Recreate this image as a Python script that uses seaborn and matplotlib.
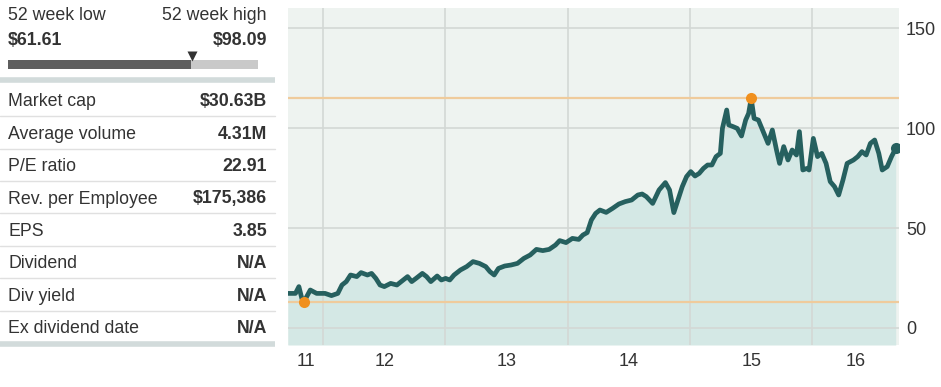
import matplotlib
matplotlib.use("Agg")
import matplotlib.pyplot as plt
import seaborn as sns
import pandas as pd
import numpy as np
from matplotlib.lines import Line2D
from matplotlib.patches import Rectangle

# ---------------- data ----------------
years = [2011.713, 2011.775, 2011.803, 2011.827, 2011.845, 2011.896, 2011.948, 2012.017,
         2012.069, 2012.121, 2012.155, 2012.190, 2012.225, 2012.276, 2012.311, 2012.363,
         2012.397, 2012.432, 2012.466, 2012.501, 2012.553, 2012.604, 2012.656, 2012.691,
         2012.725, 2012.760, 2012.812, 2012.846, 2012.881, 2012.933, 2012.967, 2013.002,
         2013.036, 2013.071, 2013.123, 2013.174, 2013.226, 2013.278, 2013.330, 2013.364,
         2013.399, 2013.434, 2013.485, 2013.537, 2013.589, 2013.641, 2013.693, 2013.744,
         2013.796, 2013.848, 2013.900, 2013.934, 2013.986, 2014.038, 2014.090, 2014.124,
         2014.159, 2014.193, 2014.228, 2014.263, 2014.314, 2014.366, 2014.418, 2014.470,
         2014.522, 2014.573, 2014.608, 2014.642, 2014.694, 2014.746, 2014.798, 2014.832,
         2014.867, 2014.902, 2014.936, 2014.971, 2015.005, 2015.040, 2015.074, 2015.109,
         2015.143, 2015.178, 2015.212, 2015.247, 2015.264, 2015.299, 2015.316, 2015.351,
         2015.385, 2015.420, 2015.454, 2015.478, 2015.499, 2015.523, 2015.558, 2015.592,
         2015.637, 2015.672, 2015.706, 2015.731, 2015.765, 2015.800, 2015.834, 2015.869,
         2015.893, 2015.921, 2015.955, 2015.972, 2016.007, 2016.041, 2016.076, 2016.111,
         2016.145, 2016.180, 2016.214, 2016.249, 2016.283, 2016.335, 2016.370, 2016.404,
         2016.439, 2016.473, 2016.508, 2016.542, 2016.570, 2016.611, 2016.646, 2016.680]
prices = [17.3, 17.3, 20.7, 14.8, 13.2, 19.0, 17.3, 17.3,
          16.2, 17.3, 21.5, 23.2, 26.5, 25.7, 27.7, 26.5,
          27.3, 24.8, 21.5, 20.7, 22.3, 21.5, 24.0, 25.7,
          23.2, 24.8, 27.3, 25.7, 23.2, 26.0, 24.0, 24.8,
          24.0, 26.5, 29.0, 30.7, 33.2, 32.3, 30.7, 28.2,
          26.5, 29.8, 31.0, 31.5, 32.3, 34.8, 36.5, 39.3,
          38.7, 39.3, 41.5, 43.7, 42.7, 44.8, 44.3, 46.5,
          47.7, 54.0, 57.3, 59.0, 57.8, 59.8, 62.0, 63.2,
          64.0, 66.5, 67.0, 65.7, 62.3, 69.0, 72.7, 69.0,
          57.7, 64.3, 70.7, 75.7, 78.2, 76.0, 77.3, 79.8,
          81.5, 81.5, 85.7, 87.3, 99.8, 109.0, 101.5, 100.7,
          99.8, 96.0, 104.0, 107.3, 114.8, 104.8, 104.0, 99.0,
          92.3, 99.0, 89.0, 82.3, 90.7, 84.0, 89.0, 86.5,
          98.2, 79.0, 79.8, 79.0, 94.8, 85.7, 87.3, 82.3,
          73.2, 70.7, 66.5, 74.0, 82.3, 84.0, 85.7, 88.2,
          86.5, 92.3, 94.0, 87.3, 79.0, 80.7, 85.7, 89.8]

low_point = (2011.845, 13.2)
high_point = (2015.499, 114.8)

x_year_ticks = [2012, 2013, 2014, 2015, 2016]
x_label_pos = [2011.857, 2012.5, 2013.5, 2014.5, 2015.5, 2016.35]
x_labels = ["11", "12", "13", "14", "15", "16"]
y_ticks = [0, 50, 100, 150]

range_low = "$61.61"
range_high = "$98.09"
stat_names = ["Market cap", "Average volume", "P/E ratio", "Rev. per Employee",
              "EPS", "Dividend", "Div yield", "Ex dividend date"]
stat_values = ["$30.63B", "4.31M", "22.91", "$175,386", "3.85", "N/A", "N/A", "N/A"]

# ---------------- style ----------------
sns.set_theme(style="white")
plt.rcParams["font.family"] = ["Liberation Sans", "DejaVu Sans"]

W, H = 941, 387
fig = plt.figure(figsize=(W / 100, H / 100), dpi=100)
fig.patch.set_facecolor("white")

LINE = "#26605f"
FILL = "#d4e8e5"
BG = "#eef3f0"
GRID = "#d3d8d5"
ORANGE_LINE = "#efcb9c"
ORANGE = "#f0901e"
TXT = "#333333"

# ---------------- chart ----------------
ax = fig.add_axes([288 / W, 1 - 345 / H, (899 - 288) / W, (345 - 8) / H])
ax.set_facecolor(BG)
ymin, ymax = -8.5, 160
xmin, xmax = 2011.714, 2016.707
ax.set_xlim(xmin, xmax)
ax.set_ylim(ymin, ymax)

df = pd.DataFrame({"year": years, "price": prices})
ax.fill_between(df["year"], df["price"], ymin, color=FILL, zorder=1, lw=0)
for yv in y_ticks:
    ax.axhline(yv, color=GRID, lw=1.2, zorder=2)
for xv in x_year_ticks:
    ax.axvline(xv, color=GRID, lw=1.2, zorder=2)
ax.axhline(low_point[1], color=ORANGE_LINE, lw=1.6, zorder=2.5)
ax.axhline(high_point[1], color=ORANGE_LINE, lw=1.6, zorder=2.5)

sns.lineplot(data=df, x="year", y="price", ax=ax, color=LINE, lw=3.4, zorder=3,
             legend=False)
ax.plot([low_point[0]], [low_point[1]], "o", color=ORANGE, ms=8, zorder=4, mec="none")
ax.plot([high_point[0]], [high_point[1]], "o", color=ORANGE, ms=8, zorder=4, mec="none")
ax.plot([years[-1]], [prices[-1]], "o", color=LINE, ms=8, zorder=4, mec="none")

ax.set_xlabel("")
ax.set_ylabel("")
ax.set_xticks([])
ax.set_xticks(x_label_pos, minor=True)
ax.set_xticklabels(x_labels, minor=True)
ax.tick_params(axis="x", which="minor", length=0, pad=6, labelsize=13, labelcolor=TXT)
ax.yaxis.tick_right()
ax.set_yticks(y_ticks)
ax.set_yticklabels([str(v) for v in y_ticks])
ax.tick_params(axis="y", length=0, pad=5, labelsize=13, labelcolor=TXT)
for s in ax.spines.values():
    s.set_visible(False)

# ---------------- left panel ----------------
pan = fig.add_axes([0, 0, 1, 1], zorder=-1)
pan.set_xlim(0, W)
pan.set_ylim(H, 0)
pan.axis("off")

FS = 12.8
dy = 1.8
pan.text(8, 14 + dy, "52 week low", fontsize=FS, color=TXT, va="center", ha="left")
pan.text(267, 14 + dy, "52 week high", fontsize=FS, color=TXT, va="center", ha="right")
pan.text(8, 39 + dy, range_low, fontsize=FS, color=TXT, va="center", ha="left", fontweight="bold")
pan.text(267, 39 + dy, range_high, fontsize=FS, color=TXT, va="center", ha="right", fontweight="bold")

pan.add_patch(Rectangle((8, 60), 183, 8.5, color="#5e5e5e", lw=0))
pan.add_patch(Rectangle((191, 60), 67, 8.5, color="#c9c9c9", lw=0))
pan.plot([192], [55.5], marker="v", color="#333333", ms=7, mec="none")

pan.add_line(Line2D([0, 275], [80, 80], color="#d2dbdb", lw=4, solid_capstyle="butt"))
pan.add_line(Line2D([0, 275], [344, 344], color="#d2dbdb", lw=4, solid_capstyle="butt"))

row0, rstep = 100, 32.4
for i, (nm, val) in enumerate(zip(stat_names, stat_values)):
    yc = row0 + i * rstep
    pan.text(8, yc + dy, nm, fontsize=FS, color=TXT, va="center", ha="left")
    pan.text(267, yc + dy, val, fontsize=FS, color=TXT, va="center", ha="right", fontweight="bold")
    if i < len(stat_names) - 1:
        ys = yc + rstep / 2
        pan.add_line(Line2D([0, 275], [ys, ys], color="#e0e0e0", lw=1))

fig.savefig("out.png", dpi=100, facecolor="white")
